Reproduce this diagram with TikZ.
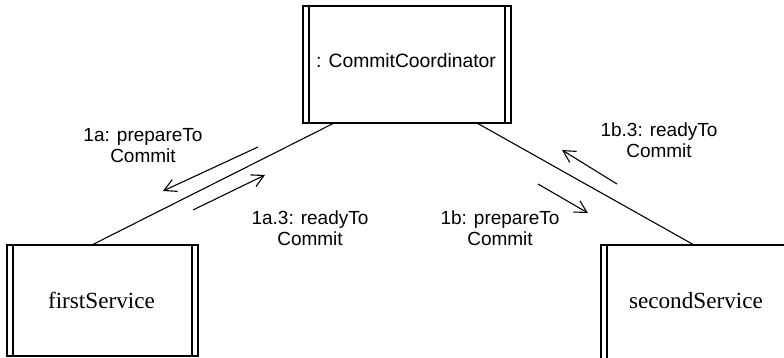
\documentclass[tikz,border=0pt]{standalone}
\usepackage{fontspec}
\setmainfont{Liberation Sans}
\newfontfamily\seriffont{Liberation Serif}
\usetikzlibrary{arrows.meta}
\begin{document}
\begin{tikzpicture}[x=1pt,y=-1pt,
  objbox/.style={draw, line width=1.2pt, rectangle, inner sep=0pt,
    path picture={
      \draw[line width=1.2pt] ([xshift=6pt]path picture bounding box.north west) -- ([xshift=6pt]path picture bounding box.south west);
      \draw[line width=1.2pt] ([xshift=-6pt]path picture bounding box.north east) -- ([xshift=-6pt]path picture bounding box.south east);
    }},
  conn/.style={line width=1.1pt},
  msg/.style={line width=1.1pt, -{Straight Barb[length=12pt,width=13pt,line width=1.1pt]}},
  lbl/.style={align=center, inner sep=0pt, font=\fontsize{19}{21}\selectfont},
  sanstxt/.style={inner sep=0pt, font=\fontsize{19.3}{22}\selectfont},
  seriftxt/.style={inner sep=0pt, font=\seriffont\fontsize{23.2}{26}\selectfont}
]
\useasboundingbox (0,0) rectangle (784,358);
\node[objbox, minimum width=208pt, minimum height=117pt] (cc) at (407,64.5) {};
\node[objbox, minimum width=191pt, minimum height=111pt] (fs) at (102.5,300.5) {};
\node[objbox, minimum width=191pt, minimum height=117pt] (ss) at (696.5,303.5) {};
\node[sanstxt] (cct) at (406,61) {: CommitCoordinator};
\node[seriftxt] (fst) at (101.5,300.5) {firstService};
\node[seriftxt] (sst) at (696,300.5) {secondService};

\draw[conn] ([xshift=-9.5pt]fs.north) -- ([xshift=-74pt]cc.south);
\draw[conn] ([xshift=71pt]cc.south) -- ([xshift=-3.5pt]ss.north);

\coordinate (a1s) at (258,147);
\coordinate (a1e) at (163,191);
\coordinate (a2s) at (193,210);
\coordinate (a2e) at (265,175);
\coordinate (b1s) at (538,184);
\coordinate (b1e) at (588,213);
\coordinate (b2s) at (617,184);
\coordinate (b2e) at (562,150);
\draw[msg] (a1s) -- (a1e);
\draw[msg] (a2s) -- (a2e);
\draw[msg] (b1s) -- (b1e);
\draw[msg] (b2s) -- (b2e);

\node[lbl] (l1a) at (143,146) {1a: prepareTo\\Commit};
\node[lbl] (l1a3) at (310,228.5) {1a.3: readyTo\\Commit};
\node[lbl] (l1b) at (500,228.5) {1b: prepareTo\\Commit};
\node[lbl] (l1b3) at (659,140.5) {1b.3: readyTo\\Commit};
\end{tikzpicture}
\end{document}
